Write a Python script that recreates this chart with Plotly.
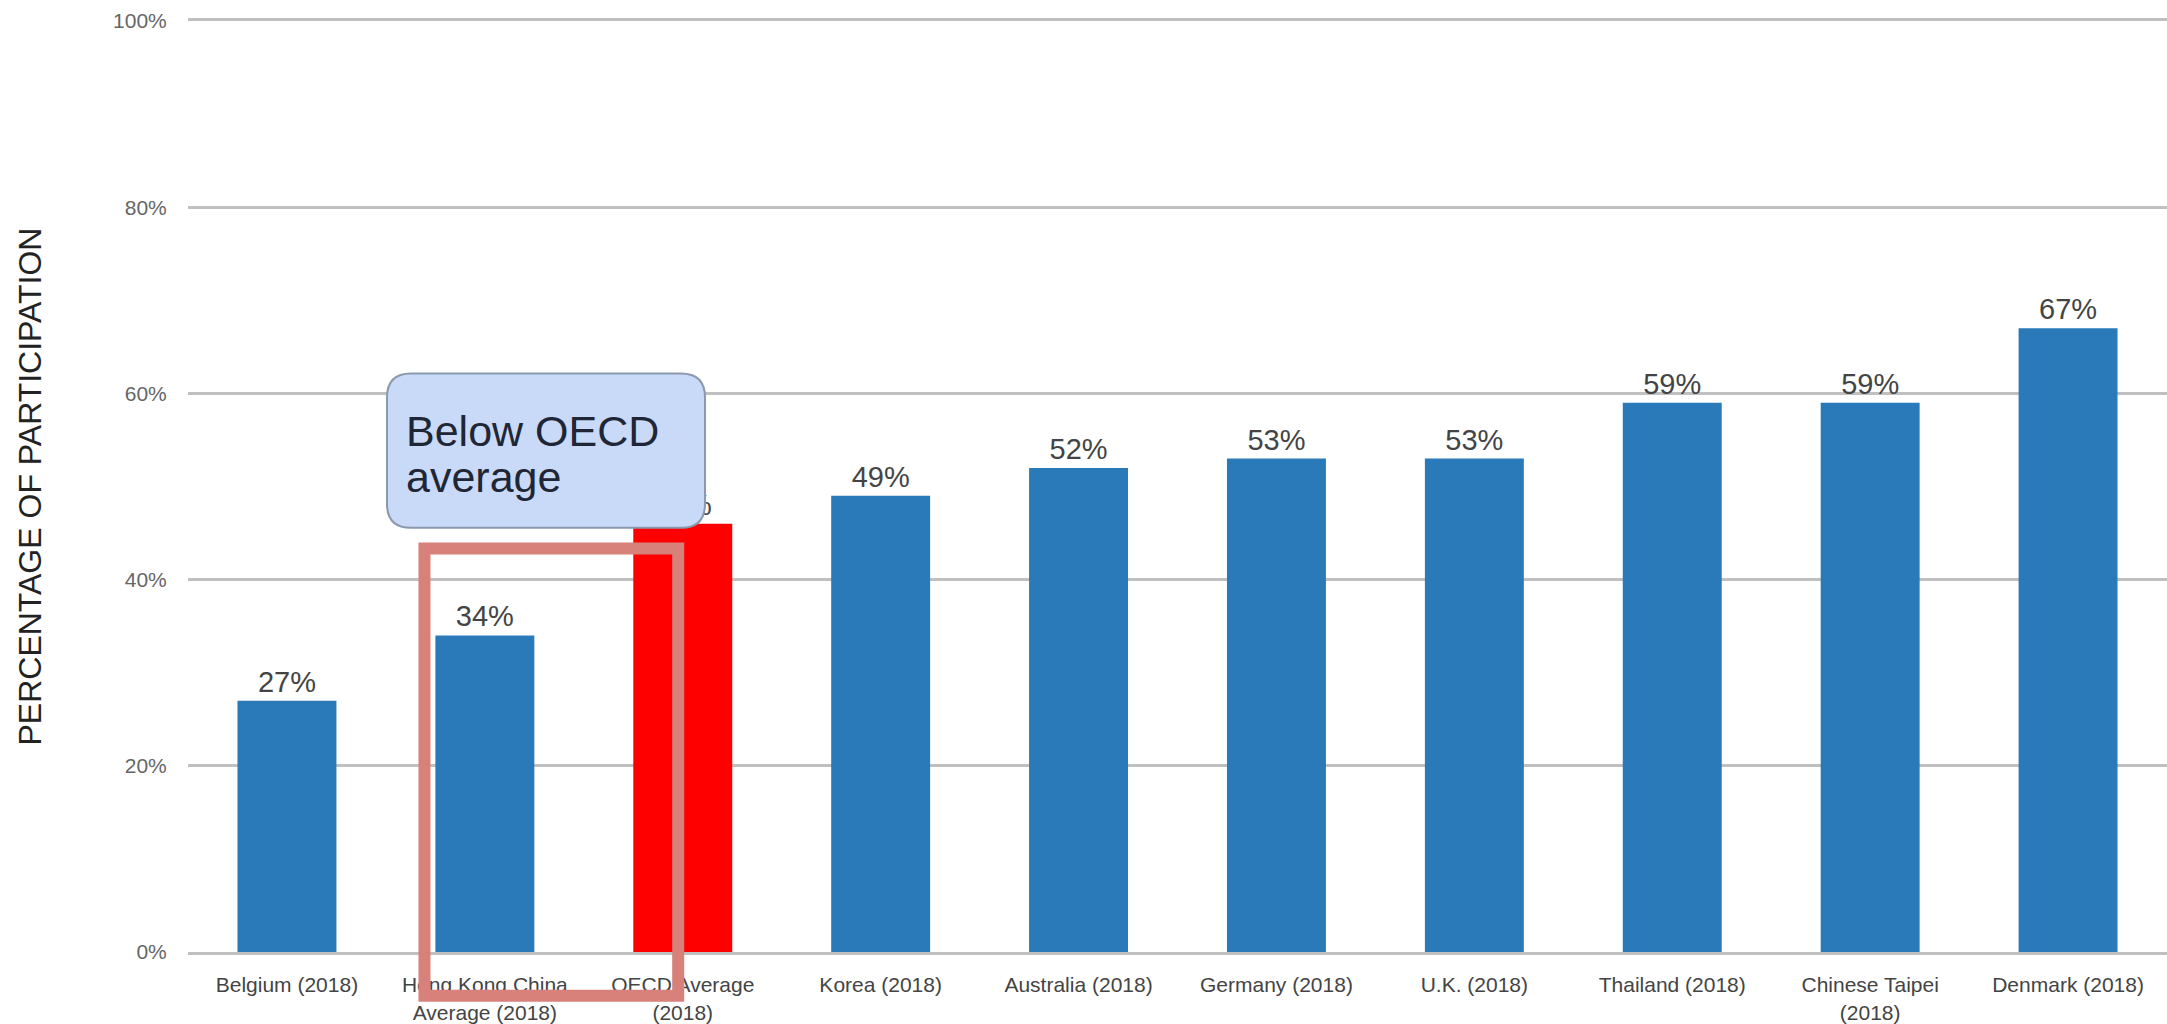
import plotly.graph_objects as go

# ---- data ----
categories = [
    "Belgium (2018)",
    "Hong Kong China<br>Average (2018)",
    "OECD Average<br>(2018)",
    "Korea (2018)",
    "Australia (2018)",
    "Germany (2018)",
    "U.K. (2018)",
    "Thailand (2018)",
    "Chinese Taipei<br>(2018)",
    "Denmark (2018)",
]
values = [0.27, 0.34, 0.46, 0.49, 0.52, 0.53, 0.53, 0.59, 0.59, 0.67]
highlight = "OECD Average<br>(2018)"
y_ticks = [0, 0.2, 0.4, 0.6, 0.8, 1.0]
y_title = "PERCENTAGE OF PARTICIPATION"
callout_lines = ["Below OECD", "average"]

BLUE = "#2a7ab9"
RED = "#ff0000"
GRID = "#c0c0c0"
colors = [RED if c == highlight else BLUE for c in categories]
FONT = "Liberation Sans, Arial, sans-serif"

W, H = 2167, 1024
ML, MR, MT, MB = 188, 0, 21, 68
PW, PH = W - ML - MR, H - MT - MB


def px2paper_x(px):
    return (px - ML) / PW


def px2paper_y(py):
    return (H - MB - py) / PH


fig = go.Figure()
fig.add_trace(go.Bar(
    x=categories,
    y=values,
    marker=dict(color=colors, line=dict(width=0)),
    text=[f"{round(v * 100)}%" for v in values],
    textposition="outside",
    textfont=dict(family=FONT, size=29, color="#444444"),
    cliponaxis=False,
    hoverinfo="skip",
))

# rounded callout box (pixel-based layout constants converted to paper units)
bx0, bx1, by0, by1, r = 387, 705, 375, 530, 24


def rounded_path(x0, y0, x1, y1, rad):
    X = px2paper_x
    Y = px2paper_y
    return (
        f"M {X(x0 + rad)} {Y(y0)} L {X(x1 - rad)} {Y(y0)} "
        f"Q {X(x1)} {Y(y0)} {X(x1)} {Y(y0 + rad)} "
        f"L {X(x1)} {Y(y1 - rad)} Q {X(x1)} {Y(y1)} {X(x1 - rad)} {Y(y1)} "
        f"L {X(x0 + rad)} {Y(y1)} Q {X(x0)} {Y(y1)} {X(x0)} {Y(y1 - rad)} "
        f"L {X(x0)} {Y(y0 + rad)} Q {X(x0)} {Y(y0)} {X(x0 + rad)} {Y(y0)} Z"
    )


shapes = [
    dict(type="path", xref="paper", yref="paper", layer="above",
         path=rounded_path(bx0, by0, bx1, by1, r),
         fillcolor="#c9daf8", line=dict(color="#8a99ae", width=2)),
    dict(type="rect", xref="x", yref="paper", layer="above",
         x0=0.695, x1=1.977, y0=-0.047, y1=0.4335,
         fillcolor="rgba(0,0,0,0)", line=dict(color="#d8817b", width=12)),
]

annotations = [
    dict(text=y_title, xref="paper", yref="paper",
         x=px2paper_x(29), y=0.5, xanchor="center", yanchor="middle",
         textangle=-90, showarrow=False,
         font=dict(family=FONT, size=32, color="#222222")),
    dict(text=callout_lines[0], xref="paper", yref="paper",
         x=px2paper_x(404), y=px2paper_y(433), xanchor="left", yanchor="middle",
         showarrow=False, font=dict(family=FONT, size=43, color="#1f2636")),
    dict(text=callout_lines[1], xref="paper", yref="paper",
         x=px2paper_x(404), y=px2paper_y(479), xanchor="left", yanchor="middle",
         showarrow=False, font=dict(family=FONT, size=43, color="#1f2636")),
]

fig.update_layout(
    width=W, height=H,
    margin=dict(l=ML, r=MR, t=MT, b=MB, pad=0),
    plot_bgcolor="white", paper_bgcolor="white",
    bargap=0.5,
    showlegend=False,
    shapes=shapes,
    annotations=annotations,
    font=dict(family=FONT),
)
fig.update_xaxes(
    type="category",
    showgrid=False, zeroline=False,
    showline=True, mirror=True, linecolor=GRID, linewidth=3,
    ticks="outside", ticklen=12, tickcolor="rgba(0,0,0,0)",
    tickfont=dict(family=FONT, size=21, color="#444444"),
    tickangle=0,
)
fig.update_yaxes(
    range=[0, 1],
    tickvals=y_ticks, tickformat=".0%",
    showgrid=True, gridcolor=GRID, gridwidth=3,
    zeroline=False, showline=False,
    ticks="outside", ticklen=16, tickcolor="rgba(0,0,0,0)",
    tickfont=dict(family=FONT, size=21, color="#666666"),
)

fig.write_html(
    "out.html",
    config={"displayModeBar": False},
    post_script="document.body.style.margin='0px';document.body.style.padding='0px';document.body.style.overflow='hidden';",
)
